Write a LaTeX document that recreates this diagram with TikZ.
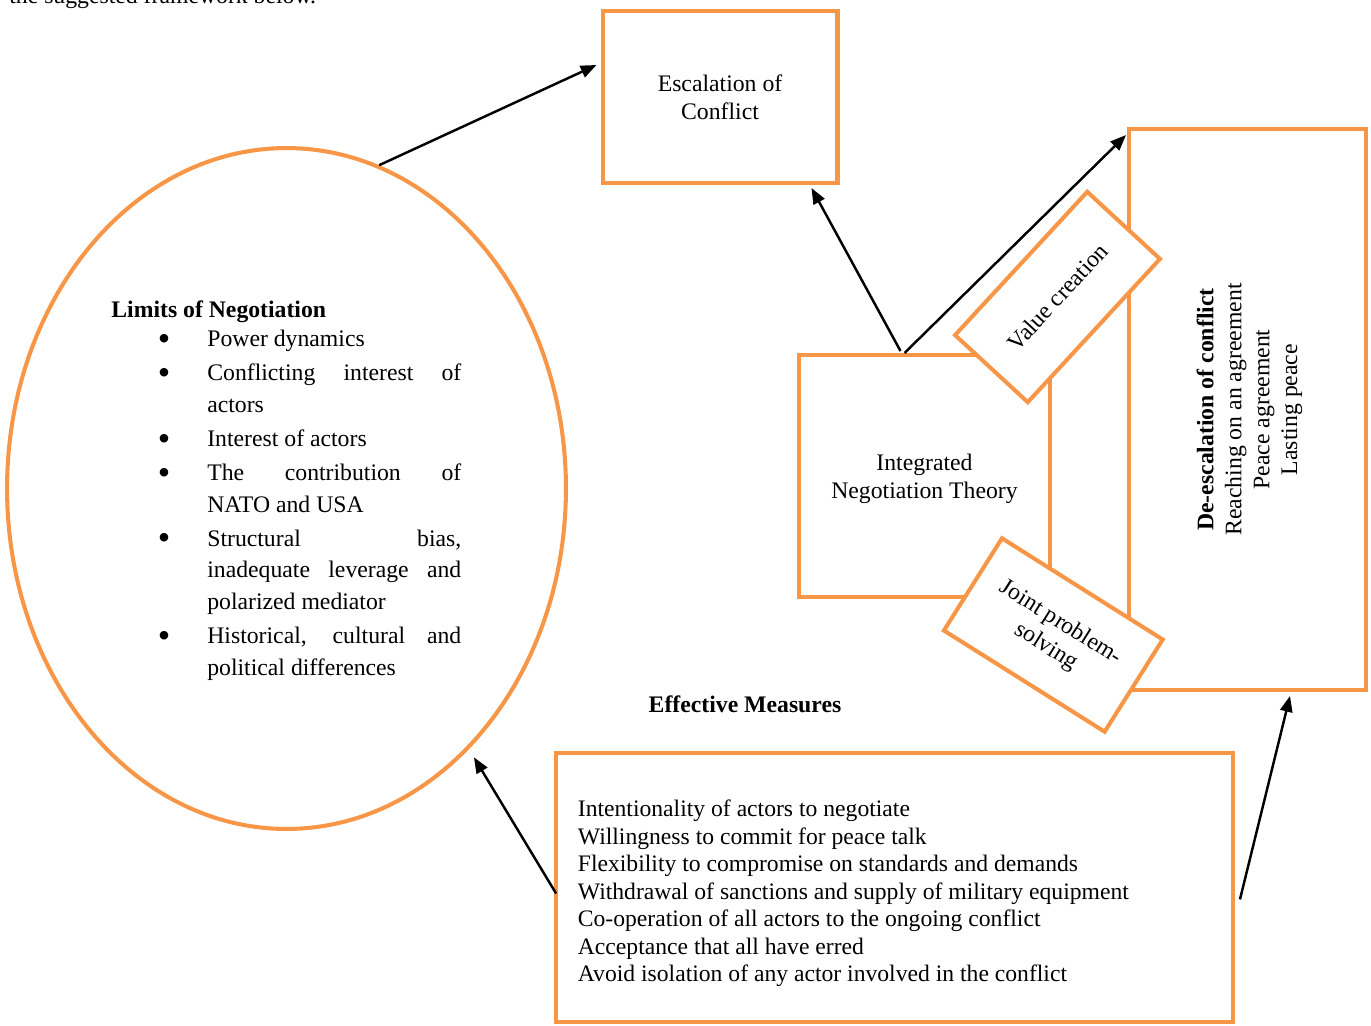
\documentclass[tikz,border=0pt]{standalone}
\usepackage{fontspec}
\setmainfont{Liberation Serif}
\usepackage{graphicx}
\usepackage{enumitem}
\usetikzlibrary{positioning, arrows.meta, calc, shapes.geometric}
\definecolor{frameorange}{HTML}{F79646}

\begin{document}
\begin{tikzpicture}[
		x=0.02cm, y=-0.02cm, % one unit is one pixel of the layout, y runs downwards
		>={Triangle[length=9pt, width=7pt]},
		% Style for the orange frames
		frame/.style={
			draw=frameorange,
			line width=2.3pt,
			fill=white,
			inner sep=0pt,
			align=center,
			font=\fontsize{13.5}{15.9}\selectfont
		},
		% Style for free text
		txt/.style={
			inner sep=0pt,
			font=\fontsize{13.5}{15.9}\selectfont
		},
		heading/.style={
			txt,
			font=\fontsize{13.5}{15.9}\selectfont\bfseries
		},
		% Style for the arrows
		link/.style={
			->,
			line width=1.4pt
		}
	]
	
	% --- PAGE ---
	\useasboundingbox (0,0) rectangle (1371,1025);
	\clip (0,0) rectangle (1371,1025);
	\node[txt, anchor=base west] (lead) at (9,3) {the suggested framework below.};
	
	% --- LIMITS OF NEGOTIATION ---
	\node[frame, ellipse, minimum width=11.18cm, minimum height=13.62cm] (limits) at (286.5,488.5) {};
	\node[txt, anchor=base west, text width=7cm, align=justify,
		font=\fontsize{13.5}{18}\selectfont] (limitsList) at (111,317) {%
		\tolerance=10000 \hyphenpenalty=10000
		\textbf{Limits of Negotiation}\par\vspace{-1.2pt}
		\begin{itemize}[label=\raisebox{-0.16em}{\scalebox{1.5}{\textbullet}},
			labelindent=0pt, labelwidth=1.16cm, labelsep=0.74cm, leftmargin=1.92cm,
			itemindent=0pt, itemsep=1.4pt, parsep=0pt, topsep=0pt, partopsep=0pt]
			\item Power dynamics
			\item Conflicting interest of\linebreak actors
			\item Interest of actors
			\item The contribution of\linebreak NATO and USA
			\item Structural bias,\linebreak inadequate leverage and\linebreak polarized mediator
			\item Historical, cultural and\linebreak political differences
		\end{itemize}};
	
	% --- BOXES ---
	\node[frame, minimum width=4.7cm, minimum height=3.44cm] (esc) at (720,97) {Escalation of\\Conflict};
	\node[frame, minimum width=5.02cm, minimum height=4.84cm] (integ) at (924.5,476) {};
	\node[txt, align=center] (integText) at ($(integ.center)+(0,3)$) {Integrated\\Negotiation Theory};
	\node[frame, minimum width=4.74cm, minimum height=11.22cm] (deesc) at (1247.5,409.5) {};
	\node[txt, rotate=90, align=center] (deescText) at ($(deesc.center)+(2,0)$) {\textbf{De-escalation of conflict}\\Reaching on an agreement\\Peace agreement\\Lasting peace};
	
	% Tilted boxes lie over the frames behind them
	\node[frame, rotate=47.3, minimum width=3.9cm, minimum height=1.98cm] (value) at (1057.5,297) {Value creation};
	\node[frame, rotate=-32.2, minimum width=3.8cm, minimum height=2.18cm] (joint) at (1053.3,635) {Joint problem-\\solving};
	
	% Effective measures
	\node[heading] (measuresTitle) at (745,704) {Effective Measures};
	\node[frame, minimum width=13.54cm, minimum height=5.39cm] (measures) at (894.5,887.4) {};
	\node[txt, anchor=west, align=left, font=\fontsize{13.45}{15.6}\selectfont]
		(measuresText) at ($(measures.west)+(23.5,6)$) {%
		Intentionality of actors to negotiate\\
		Willingness to commit for peace talk\\
		Flexibility to compromise on standards and demands\\
		Withdrawal of sanctions and supply of military equipment\\
		Co-operation of all actors to the ongoing conflict\\
		Acceptance that all have erred\\
		Avoid isolation of any actor involved in the conflict};
	
	% --- ARROWS ---
	\draw[link] (limits.74.8) -- ($(esc.north west)+(-4,56)$);
	\draw[link] ($(integ.north)+(-24,-2)$) -- ($(esc.south east)+(-28,3)$);
	\draw[link] ($(integ.north)+(-20,0)$) -- ($(deesc.north west)+(-1,8)$);
	\draw[link, shorten >=0.19cm] ($(measures.west)+(2,6)$) -- (limits.-55.3);
	\draw[link] ($(measures.east)+(5,12)$) -- ($(deesc.south)+(42.5,4)$);
	
\end{tikzpicture}
\end{document}
